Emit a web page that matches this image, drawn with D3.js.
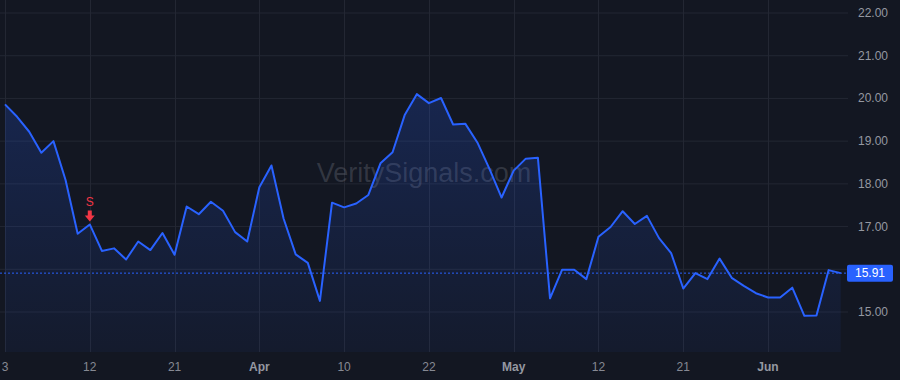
<!DOCTYPE html>
<html>
<head>
<meta charset="utf-8">
<script src="https://cdn.jsdelivr.net/npm/d3@7"></script>
<style>
  body { margin: 0; background: #131722; }
  #chart { width: 900px; height: 380px; }
  text { font-family: "Liberation Sans", Arial, sans-serif; }
</style>
</head>
<body>
<div id="chart"></div>
<script>
// trading days Mar 3 - Jun 10
const dates = [
  "2025-03-03","2025-03-04","2025-03-05","2025-03-06","2025-03-07",
  "2025-03-10","2025-03-11","2025-03-12","2025-03-13","2025-03-14",
  "2025-03-17","2025-03-18","2025-03-19","2025-03-20","2025-03-21",
  "2025-03-24","2025-03-25","2025-03-26","2025-03-27","2025-03-28",
  "2025-03-31","2025-04-01","2025-04-02","2025-04-03","2025-04-04",
  "2025-04-07","2025-04-08","2025-04-09","2025-04-10","2025-04-11",
  "2025-04-14","2025-04-15","2025-04-16","2025-04-17","2025-04-21",
  "2025-04-22","2025-04-23","2025-04-24","2025-04-25","2025-04-28",
  "2025-04-29","2025-04-30","2025-05-01","2025-05-02","2025-05-05",
  "2025-05-06","2025-05-07","2025-05-08","2025-05-09","2025-05-12",
  "2025-05-13","2025-05-14","2025-05-15","2025-05-16","2025-05-19",
  "2025-05-20","2025-05-21","2025-05-22","2025-05-23","2025-05-27",
  "2025-05-28","2025-05-29","2025-05-30","2025-06-02","2025-06-03",
  "2025-06-04","2025-06-05","2025-06-06","2025-06-09","2025-06-10"
];
const prices = [
  19.86, 19.57, 19.22, 18.73, 19.00, 18.09, 16.83, 17.05, 16.43, 16.49,
  16.23, 16.65, 16.45, 16.85, 16.34, 17.47, 17.29, 17.58, 17.37, 16.87,
  16.65, 17.92, 18.43, 17.19, 16.35, 16.15, 15.26, 17.56, 17.45, 17.54,
  17.74, 18.48, 18.74, 19.61, 20.10, 19.89, 20.01, 19.39, 19.41, 18.97,
  18.35, 17.68, 18.31, 18.59, 18.61, 15.32, 15.99, 15.99, 15.77, 16.76,
  16.99, 17.36, 17.06, 17.25, 16.73, 16.38, 15.55, 15.91, 15.77, 16.25,
  15.80, 15.61, 15.44, 15.34, 15.34, 15.57, 14.91, 14.92, 15.98, 15.91
];
const yTicks = [15, 16, 17, 18, 19, 20, 21, 22];
const xTickDates = ["2025-03-03","2025-03-12","2025-03-21","2025-04-01","2025-04-10",
                    "2025-04-22","2025-05-01","2025-05-12","2025-05-21","2025-06-02"];
const signals = [{date: "2025-03-12", type: "S"}];
const lastPrice = 15.91;

const width = 900, height = 380;
const plotRight = 848, plotBottom = 352;

const svg = d3.select("#chart").append("svg")
  .attr("width", width).attr("height", height);

svg.append("rect").attr("width", width).attr("height", height).attr("fill", "#131722");

const xScale = d3.scalePoint().domain(dates).range([5, 840.7]);
const yScale = d3.scaleLinear().domain([15, 22]).range([312, 13]);

const parse = d3.timeParse("%Y-%m-%d");
function tickLabel(d) {
  const t = parse(d);
  return t.getDate() === 1 || d === "2025-06-02" ? d3.timeFormat("%b")(t) : d3.timeFormat("%-d")(t);
}
function isMonth(d) { return parse(d).getDate() <= 2 && d !== "2025-03-03"; }

// grid
const grid = svg.append("g");
grid.selectAll(".hg").data(yTicks).enter().append("line")
  .attr("x1", 0).attr("x2", plotRight)
  .attr("y1", d => yScale(d)).attr("y2", d => yScale(d))
  .attr("stroke", "#232733").attr("stroke-width", 1);
grid.selectAll(".vg").data(xTickDates).enter().append("line")
  .attr("x1", d => Math.round(xScale(d)) + 0.5).attr("x2", d => Math.round(xScale(d)) + 0.5)
  .attr("y1", 0).attr("y2", plotBottom)
  .attr("stroke", "#232733").attr("stroke-width", 1);

// watermark
svg.append("text")
  .attr("x", 424).attr("y", 182)
  .attr("text-anchor", "middle")
  .attr("font-size", 27)
  .attr("fill", "#787b86").attr("fill-opacity", 0.33)
  .text("VeritySignals.com");

// area fill
const defs = svg.append("defs");
const grad = defs.append("linearGradient").attr("id", "fillGrad")
  .attr("gradientUnits", "userSpaceOnUse")
  .attr("x1", 0).attr("x2", 0).attr("y1", yScale(d3.max(prices))).attr("y2", plotBottom);
grad.append("stop").attr("offset", "0%").attr("stop-color", "#2962ff").attr("stop-opacity", 0.2);
grad.append("stop").attr("offset", "100%").attr("stop-color", "#2962ff").attr("stop-opacity", 0.05);

const series = dates.map((d, i) => ({date: d, value: prices[i]}));

svg.append("path").datum(series)
  .attr("fill", "url(#fillGrad)")
  .attr("d", d3.area().x(d => xScale(d.date)).y0(plotBottom).y1(d => yScale(d.value)));

// last price dotted line
svg.append("line")
  .attr("x1", 0).attr("x2", plotRight)
  .attr("y1", yScale(lastPrice)).attr("y2", yScale(lastPrice))
  .attr("stroke", "#2962ff").attr("stroke-width", 1).attr("stroke-dasharray", "2,2");

svg.append("path").datum(series)
  .attr("fill", "none").attr("stroke", "#2962ff").attr("stroke-width", 2)
  .attr("stroke-linejoin", "round")
  .attr("d", d3.line().x(d => xScale(d.date)).y(d => yScale(d.value)));

// signal markers
signals.forEach(s => {
  const x = xScale(s.date);
  const y = yScale(prices[dates.indexOf(s.date)]);
  svg.append("text").attr("x", x).attr("y", y - 18)
    .attr("text-anchor", "middle").attr("font-size", 12)
    .attr("fill", "#f23645").text(s.type);
  svg.append("path")
    .attr("d", `M${x - 2},${y - 14} h4 v5 h3 l-5,6 l-5,-6 h3 z`)
    .attr("fill", "#f23645");
});

// y axis labels
svg.append("g").selectAll("text").data(yTicks.filter(d => d !== 16)).enter().append("text")
  .attr("x", 858).attr("y", d => yScale(d) + 4)
  .attr("font-size", 12).attr("fill", "#9598a1")
  .text(d => d3.format(".2f")(d));

// price tag
svg.append("rect")
  .attr("x", 847).attr("y", yScale(lastPrice) - 8.5)
  .attr("width", 46).attr("height", 17).attr("rx", 2)
  .attr("fill", "#2962ff");
svg.append("text")
  .attr("x", 870).attr("y", yScale(lastPrice) + 4)
  .attr("text-anchor", "middle").attr("font-size", 12).attr("fill", "#ffffff")
  .text(d3.format(".2f")(lastPrice));

// x axis labels
svg.append("g").selectAll("text").data(xTickDates).enter().append("text")
  .attr("x", d => xScale(d)).attr("y", 371)
  .attr("text-anchor", "middle").attr("font-size", 12)
  .attr("font-weight", d => isMonth(d) ? "bold" : "normal")
  .attr("fill", d => isMonth(d) ? "#9598a1" : "#868993")
  .text(d => tickLabel(d));
</script>
</body>
</html>
